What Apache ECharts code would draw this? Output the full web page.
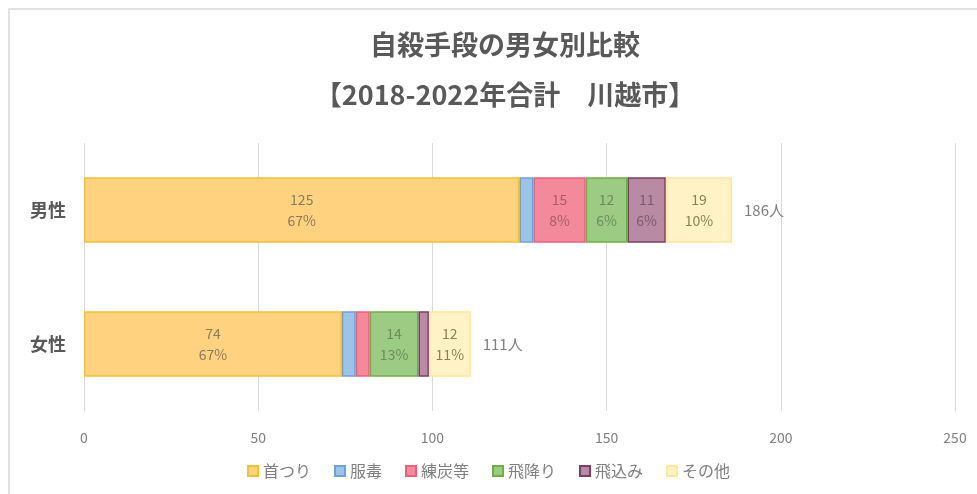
<!DOCTYPE html>
<html>
<head>
<meta charset="utf-8">
<script src="https://cdn.jsdelivr.net/npm/echarts@6/dist/echarts.min.js"></script>
<style>
  html, body { margin: 0; padding: 0; background: #fff; }
  #chart { width: 977px; height: 494px; }
</style>
</head>
<body>
<div id="chart"></div>
<script>
const categories = ['女性', '男性']
const methods = ['首つり', '服毒', '練炭等', '飛降り', '飛込み', 'その他']
const hanging = [74, 125]
const poison = [4, 4]
const charcoal = [4, 15]
const jumping = [14, 12]
const train = [3, 11]
const other = [12, 19]
const totals = [111, 186]
const xTicks = [0, 50, 100, 150, 200, 250]

const seriesValues = [hanging, poison, charcoal, jumping, train, other]
const fills = ['#FFD27F', '#9DC3E6', '#F4899C', '#9CCB84', '#B88AA4', '#FFF2C7']
const borders = ['#F2C233', '#6FA0D8', '#E8627A', '#70AD47', '#7B3F60', '#FFE699']
const labelColors = ['#8C7A5C', '#5B7FA8', '#A2606A', '#6E8A5E', '#7F5A6E', '#8C7F5C']
const minLabel = 10

const chart = echarts.init(document.getElementById('chart'))

const series = methods.map((name, i) => ({
  name,
  type: 'bar',
  stack: 'total',
  barWidth: '49%',
  data: seriesValues[i],
  itemStyle: {
    color: fills[i],
    borderColor: borders[i],
    borderWidth: 1.5
  },
  label: {
    show: true,
    position: 'inside',
    color: labelColors[i],
    fontSize: 14,
    lineHeight: 21,
    fontFamily: 'Noto Sans CJK JP',
    formatter: p => {
      if (p.value < minLabel) return ''
      const pct = Math.round(p.value / totals[p.dataIndex] * 100)
      return p.value + '\n' + pct + '%'
    }
  }
}))

// 合計ラベル用（透明）
series.push({
  name: '合計',
  type: 'bar',
  barWidth: '49%',
  barGap: '-100%',
  data: totals,
  z: 0,
  itemStyle: { color: 'transparent' },
  label: {
    show: true,
    position: 'right',
    distance: 12,
    color: '#7F7F7F',
    fontSize: 15,
    fontFamily: 'Noto Sans CJK JP',
    formatter: p => p.value + '人'
  },
  tooltip: { show: false }
})

chart.setOption({
  backgroundColor: '#fff',
  textStyle: { fontFamily: 'Noto Sans CJK JP' },
  graphic: [{
    type: 'polyline',
    shape: { points: [[9, 494], [9, 9], [977, 9]] },
    style: { stroke: '#D9D9D9', lineWidth: 1.5, fill: null },
    silent: true
  }],
  title: {
    text: '自殺手段の男女別比較\n【2018-2022年合計　川越市】',
    left: 500,
    top: 15,
    textAlign: 'center',
    textStyle: {
      color: '#595959',
      fontSize: 27,
      fontWeight: 'bold',
      lineHeight: 50,
      fontFamily: 'Noto Sans CJK JP'
    }
  },
  legend: {
    data: methods,
    bottom: 10,
    left: 'center',
    itemWidth: 10,
    itemHeight: 10,
    itemGap: 23,
    icon: 'rect',
    textStyle: { color: '#7F7F7F', fontSize: 16 }
  },
  grid: {
    left: 84,
    right: 22,
    top: 143,
    bottom: 83
  },
  xAxis: {
    type: 'value',
    min: 0,
    max: 250,
    interval: 50,
    axisLine: { show: false },
    axisTick: { show: false },
    splitLine: { lineStyle: { color: '#D9D9D9' } },
    axisLabel: {
      color: '#7F7F7F',
      fontSize: 14,
      margin: 20,
      formatter: v => (xTicks.includes(v) ? String(v) : '')
    }
  },
  yAxis: {
    type: 'category',
    data: categories,
    axisLine: { show: false },
    axisTick: { show: false },
    axisLabel: {
      color: '#595959',
      fontSize: 18,
      fontWeight: 'bold',
      margin: 18
    }
  },
  series
})
</script>
</body>
</html>
